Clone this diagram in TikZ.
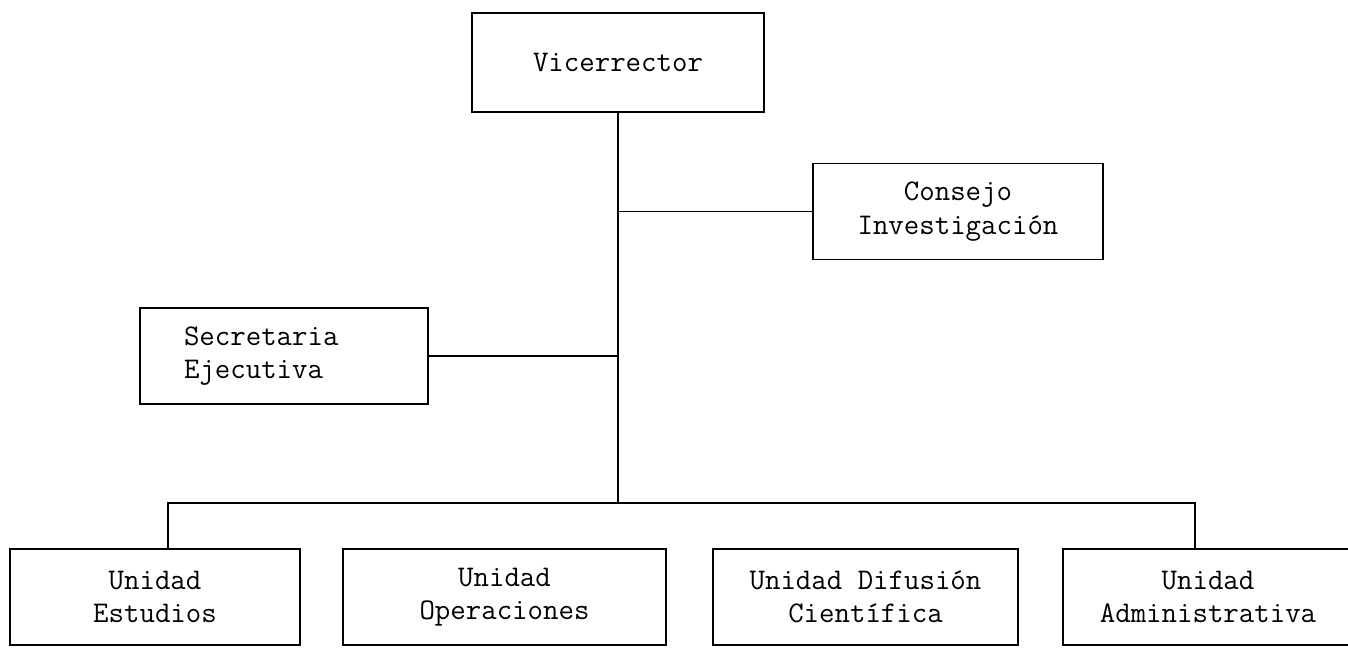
\documentclass[tikz,border=0pt]{standalone}
\usepackage{fontspec}
\usetikzlibrary{calc}

\tikzset{
  orgbox/.style={draw, line width=1.4pt, minimum height=72pt, inner sep=0pt,
    align=center, font=\ttfamily\fontsize{22.5}{25}\selectfont},
  link/.style={line width=1.4pt},
  trunk/.style={line width=2pt},
}

\begin{document}
\begin{tikzpicture}[x=0.75pt,y=-0.75pt]
        \useasboundingbox (0,0) rectangle (1348,651);
        \node[orgbox, minimum width=219pt, minimum height=74pt] (vice) at (618,62.5) {Vicerrector};
        \node[orgbox, minimum width=217.5pt] (consejo) at (958,211.5) {Consejo\\Investigación};
        \node[orgbox, minimum width=216pt, text width=150pt, align=left, inner xsep=33pt] (secre) at (284,356) {Secretaria\\Ejecutiva};
        \node[orgbox, minimum width=217.5pt] (u1) at (155,597) {Unidad\\Estudios};
        \node[orgbox, minimum width=242pt] (u2) at (504.5,597) {Unidad\\Operaciones};
        \node[orgbox, minimum width=228.75pt] (u3) at (865.5,597) {Unidad Difusión\\Científica};
        \node[orgbox, minimum width=217.5pt] (u4) at (1208,597) {Unidad\\Administrativa};
        \coordinate (hub) at (618,503);
        \draw[trunk] (vice.south) -- (hub);
        \draw[link] (consejo.west) -- (consejo.west -| vice.south);
        \draw[link] (secre.east) -- (secre.east -| vice.south);
        \draw[link] ([xshift=9.75pt]u1.north) |- (hub) -| ([xshift=-9.75pt]u4.north);
\end{tikzpicture}
\end{document}
